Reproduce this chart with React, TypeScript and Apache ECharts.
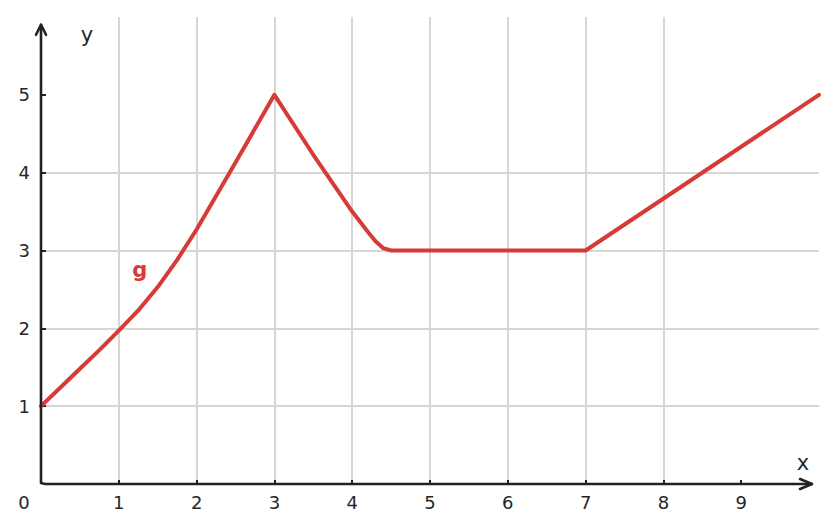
import React, { useEffect, useRef } from "react";
import * as echarts from "echarts";

const xValues = [0, 0.25, 0.5, 0.75, 1, 1.25, 1.5, 1.75, 2, 2.5, 3, 3.5, 4, 4.2, 4.3, 4.4, 4.5, 5, 7, 10];
const yValues = [1, 1.24, 1.48, 1.72, 1.97, 2.23, 2.53, 2.88, 3.27, 4.13, 5, 4.23, 3.5, 3.24, 3.12, 3.03, 3.0, 3.0, 3.0, 5];
const xTicks = [1, 2, 3, 4, 5, 6, 7, 8, 9];
const yTicks = [1, 2, 3, 4, 5];
const seriesName = "g";

const AXIS = "#222222";
const TEXT = "#262626";
const FONT = "DejaVu Sans";

export default function App() {
  const ref = useRef<HTMLDivElement>(null);
  useEffect(() => {
    const chart = echarts.init(ref.current!, null, { renderer: "svg" });
    const data = xValues.map((x, i) => [x, yValues[i]]);
    chart.setOption({
      animation: false,
      grid: { left: 41, right: 17, top: 17, bottom: 48 },
      xAxis: {
        type: "value",
        min: 0,
        max: 10,
        interval: 1,
        axisLine: { show: false },
        axisTick: { show: true, inside: true, length: 4, customValues: xTicks, lineStyle: { color: AXIS, width: 2 } },
        axisLabel: { customValues: xTicks, color: TEXT, fontSize: 18, fontFamily: FONT, margin: 9 },
        splitLine: { show: true, showMinLine: true, showMaxLine: false, lineStyle: { color: "#d6d6d6", width: 2 } },
      },
      yAxis: {
        type: "value",
        min: 0,
        max: 6,
        interval: 1,
        axisLine: { show: false },
        axisTick: { show: true, inside: true, length: 5, customValues: yTicks, lineStyle: { color: AXIS, width: 2 } },
        axisLabel: { customValues: yTicks, color: TEXT, fontSize: 18, fontFamily: FONT, margin: 11 },
        splitLine: { show: true, showMinLine: true, showMaxLine: false, lineStyle: { color: "#d6d6d6", width: 2 } },
      },
      series: [
        {
          type: "line",
          name: seriesName,
          data,
          showSymbol: false,
          symbol: "none",
          lineStyle: { color: "#d63b37", width: 4, join: "round", cap: "round" },
          z: 3,
        },
      ],
    });
    const p = (x: number, y: number) => chart.convertToPixel({ gridIndex: 0 }, [x, y]) as number[];
    const o = p(0, 0);
    const yTip = p(0, 5.9);
    const xTip = p(9.91, 0);
    const gLab = p(1.27, 2.75);
    const stroke = { stroke: AXIS, lineWidth: 2.6, fill: "none", lineCap: "round", lineJoin: "round" };
    chart.setOption({
      graphic: [
        { type: "polyline", z: 10, shape: { points: [[o[0], yTip[1]], [o[0], o[1] - 1], [o[0] + 4, o[1]], [xTip[0], o[1]]] }, style: stroke },
        { type: "polyline", z: 10, shape: { points: [[o[0] - 5, yTip[1] + 10], [o[0], yTip[1]], [o[0] + 5, yTip[1] + 10]] }, style: stroke },
        { type: "polyline", z: 10, shape: { points: [[xTip[0] - 12, o[1] - 5], [xTip[0], o[1]], [xTip[0] - 12, o[1] + 5]] }, style: stroke },
        { type: "text", z: 10, x: o[0] - 17, y: o[1] + 18, style: { text: "0", fill: TEXT, font: `18px '${FONT}'`, align: "center", verticalAlign: "middle" } },
        { type: "text", z: 10, x: xTip[0] - 9, y: o[1] - 21, style: { text: "x", fill: TEXT, font: `21px '${FONT}'`, align: "center", verticalAlign: "middle" } },
        { type: "text", z: 10, x: o[0] + 46, y: yTip[1] + 10, style: { text: "y", fill: TEXT, font: `21px '${FONT}'`, align: "center", verticalAlign: "middle" } },
        { type: "text", z: 10, x: gLab[0], y: gLab[1], style: { text: seriesName, fill: "#d63b37", font: `bold 21px '${FONT}'`, align: "center", verticalAlign: "middle" } },
      ],
    });
    return () => chart.dispose();
  }, []);
  return <div ref={ref} style={{ width: 836, height: 532, position: "absolute", left: 0, top: 0 }} />;
}
